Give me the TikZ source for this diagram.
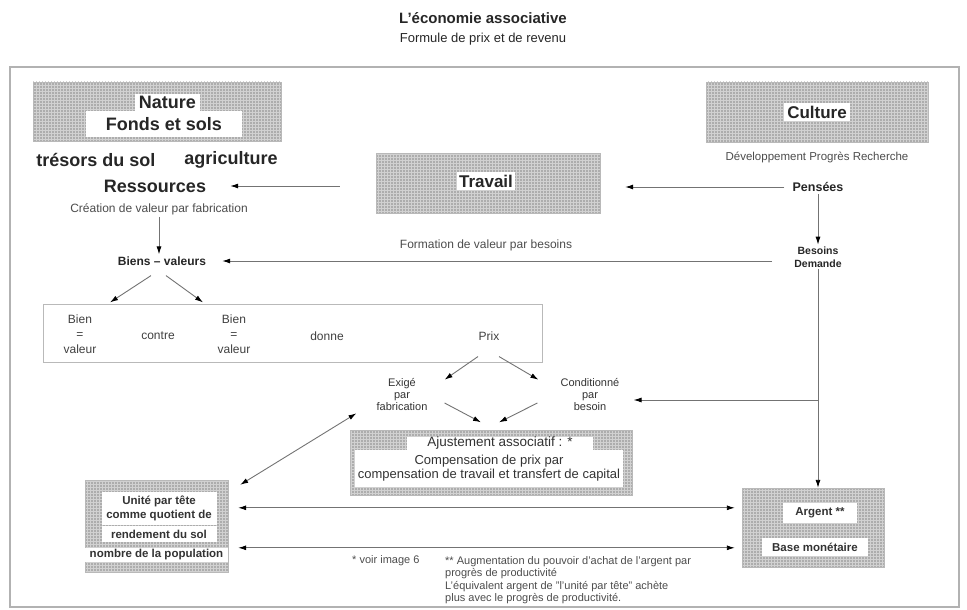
\documentclass[tikz,border=0pt]{standalone}
\usepackage{fontspec}
\setmainfont{Liberation Sans}
\usetikzlibrary{arrows.meta,calc,patterns}
\begin{document}
\begin{tikzpicture}[x=1pt,y=-1pt,
  every node/.style={inner sep=2pt, text=black!85},
  graybox/.style={draw=gray!55, preaction={fill=gray!64}, pattern=grid, pattern color=gray!36, inner sep=0pt},
  whitebox/.style={fill=white, inner sep=0pt},
  bigb/.style={font=\fontsize{18}{21}\selectfont\bfseries},
  headb/.style={font=\fontsize{17}{20}\selectfont\bfseries},
  lbl/.style={font=\fontsize{12}{13}\selectfont, text=black!70},
  rowt/.style={font=\fontsize{12}{15}\selectfont, text=black!75, align=center},
  exf/.style={font=\fontsize{11}{12}\selectfont, text=black!80, align=center},
  ajf/.style={font=\fontsize{13}{14}\selectfont, text=black!80, align=center},
  boxb/.style={font=\fontsize{11.5}{14}\selectfont\bfseries, text=black!80, align=center},
  footf/.style={font=\fontsize{11}{12.5}\selectfont, text=black!70, align=left},
  arr/.style={draw=black!55, line width=0.9pt, -{Latex[length=8pt,width=5pt,color=black]}},
  dbl/.style={draw=black!55, line width=0.9pt, {Latex[length=8pt,width=5pt,color=black]}-{Latex[length=8pt,width=5pt,color=black]}}
]
\useasboundingbox (0,0) rectangle (967,610);

% heading
\node[font=\fontsize{15}{17}\selectfont\bfseries] (title) at (483,18) {L'économie associative};
\node[font=\fontsize{13}{15}\selectfont] (subtitle) at (483,39) {Formule de prix et de revenu};

% outer frame
\draw[gray!60, line width=1.1pt] (10,67) rectangle (959,607);

% Nature
\node[graybox, minimum width=248, minimum height=59] (nature) at (157,111.5) {};
\node[whitebox, bigb, minimum width=65, minimum height=17] (naturel) at (167.5,102.5) {Nature};
\node[whitebox, bigb, minimum width=156, minimum height=26] (fonds) at (164,124) {Fonds et sols};
\node[bigb] (tresors) at (96,160) {trésors du sol};
\node[bigb] (agri) at (231,160) {agriculture};
\node[bigb] (ress) at (155,186) {Ressources};
\node[lbl] (creation) at (159,209) {Création de valeur par fabrication};
\node[font=\fontsize{12}{14}\selectfont\bfseries] (biens) at (162,261) {Biens – valeurs};

% Travail
\node[graybox, minimum width=224, minimum height=60] (travail) at (488,183) {};
\node[whitebox, headb, inner sep=2.5pt] (travaill) at (486,181) {Travail};
\node[lbl] (formation) at (486,245) {Formation de valeur par besoins};

% Culture
\node[graybox, minimum width=222, minimum height=60] (culture) at (817,112) {};
\node[whitebox, headb, inner sep=3pt] (culturel) at (817,112) {Culture};
\node[lbl, font=\fontsize{11.5}{13}\selectfont] (dev) at (817,157) {Développement Progrès Recherche};
\node[font=\fontsize{12.5}{14}\selectfont\bfseries] (pens) at (818,187) {Pensées};
\node[font=\fontsize{10.5}{12.5}\selectfont\bfseries, align=center] (besoins) at (818,257) {Besoins\\Demande};

% exchange row
\node[draw=gray!55, line width=0.6pt, minimum width=499, minimum height=58] (row) at (292.5,333) {};
\node[rowt] (bien1) at (80,334) {Bien\\=\\valeur};
\node[rowt] (contre) at (158,336) {contre};
\node[rowt] (bien2) at (234,334) {Bien\\=\\valeur};
\node[rowt] (donne) at (327,336) {donne};
\node[rowt] (prix) at (489,336) {Prix};

% price determination
\node[exf] (exige) at (402,395) {Exigé\\par\\fabrication};
\node[exf] (condi) at (590,395) {Conditionné\\par\\besoin};

% associative adjustment
\node[graybox, minimum width=282, minimum height=65] (ajust) at (491,463) {};
\node[whitebox, ajf, font=\fontsize{13.5}{15}\selectfont, minimum width=186, minimum height=14] (ajustt) at (500,443.5) {Ajustement associatif : *};
\node[whitebox, ajf, minimum width=268, minimum height=37] (comp) at (489,468.5) {Compensation de prix par\\compensation de travail et transfert de capital};

% per-head unit
\node[graybox, minimum width=143, minimum height=92] (unite) at (156.5,526) {};
\node[whitebox, boxb, minimum width=115, minimum height=33] (unitet) at (159,508.5) {Unité par tête\\comme quotient de};
\node[whitebox, boxb, minimum width=115, minimum height=16] (rendement) at (159,534) {rendement du sol};
\node[whitebox, boxb, minimum width=143, minimum height=14] (nombre) at (156.5,555) {nombre de la population};

% money
\node[graybox, minimum width=142, minimum height=79] (argent) at (813,527.5) {};
\node[whitebox, boxb, minimum width=74, minimum height=20] (argentt) at (820,513) {Argent **};
\node[whitebox, boxb, minimum width=106, minimum height=18] (base) at (815,547) {Base monétaire};

% notes
\node[footf, anchor=west] (voir) at (350,561) {* voir image 6};
\node[footf, anchor=north west] (note) at (443,554) {** Augmentation du pouvoir d'achat de l'argent par\\progrès de productivité\\L'équivalent argent de "l'unité par tête" achète\\plus avec le progrès de productivité.};

% connectors
\draw[arr, shorten <=36pt] (travail.west |- ress.east) -- ($(ress.east)+(22,0)$);
\draw[arr, shorten <=6pt] (pens.west) -- ($(travail.east |- pens.west)+(25,0)$);
\draw[arr] (pens.south) -- (pens.south |- besoins.north);
\draw[arr] (creation.south) -- (creation.south |- biens.north);
\draw[arr, shorten <=20pt] (besoins.west |- biens.east) -- ($(biens.east)+(14,0)$);
\draw[arr] ($(biens.south)+(-11,8)$) -- ($(bien1.north)+(30,-10)$);
\draw[arr] ($(biens.south)+(4,8)$) -- ($(bien2.north)+(-31,-10)$);
\draw[arr] ($(prix.south)+(-11,14)$) -- ($(exige.north east)+(15,3)$);
\draw[arr] ($(prix.south)+(10,14)$) -- ($(condi.north west)+(-20,3)$);
\draw[arr] ($(exige.east)+(15,8)$) -- ($(ajust.north)+(-10,-8)$);
\draw[arr] ($(condi.west)+(-21,8)$) -- ($(ajust.north)+(8,-8)$);
\draw[arr] (besoins.south) -- (besoins.south |- argent.north);
\draw[arr] ($(besoins.south |- condi.east)+(0,5)$) -- ($(condi.east)+(12,5)$);
\draw[dbl] ($(unite.north east)+(12,5)$) -- ($(exige.south west)+(-18,0)$);
\draw[dbl] ($(unite.north east)+(10,28)$) -- ($(argent.north west)+(-7,20)$);
\draw[dbl] ($(unite.north east)+(10,68)$) -- ($(argent.north west)+(-7,60)$);
\end{tikzpicture}
\end{document}
